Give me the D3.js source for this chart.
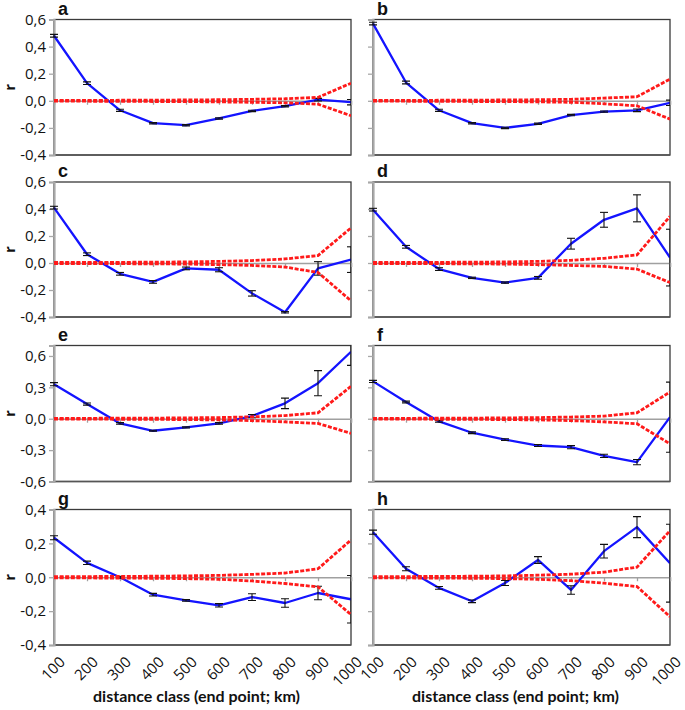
<!DOCTYPE html>
<html>
<head>
<meta charset="utf-8">
<script src="https://cdn.jsdelivr.net/npm/d3@7"></script>
<style>
  html, body { margin: 0; padding: 0; background: #fff; }
  svg { display: block; }
</style>
</head>
<body>
<svg id="chart" width="685" height="710"></svg>
<script>
// ---------- DATA ----------
const distances = [100, 200, 300, 400, 500, 600, 700, 800, 900, 1000];
const panelLetters = ["a", "b", "c", "d", "e", "f", "g", "h"];
const ticksRow1 = [-0.4, -0.2, 0, 0.2, 0.4, 0.6];
const ticksRow3 = [-0.6, -0.3, 0, 0.3, 0.6];
const ticksRow4 = [-0.4, -0.2, 0, 0.2, 0.4];
const xTitle = "distance class (end point; km)";
const yTitle = "r";

// panel a
const rA   = [0.48, 0.13, -0.07, -0.165, -0.18, -0.13, -0.075, -0.04, 0.008, -0.01];
const errA = [0.01, 0.01, 0.008, 0.005, 0.005, 0.005, 0.005, 0.005, 0.01, 0.02];
const upA  = [0.003, 0.003, 0.004, 0.005, 0.006, 0.008, 0.011, 0.015, 0.025, 0.13];
const loA  = [-0.003, -0.003, -0.004, -0.005, -0.006, -0.008, -0.011, -0.015, -0.025, -0.11];
// panel b
const rB   = [0.57, 0.135, -0.07, -0.165, -0.2, -0.17, -0.105, -0.08, -0.07, -0.015];
const errB = [0.01, 0.01, 0.008, 0.005, 0.005, 0.005, 0.005, 0.005, 0.01, 0.02];
const upB  = [0.003, 0.003, 0.004, 0.005, 0.006, 0.008, 0.011, 0.02, 0.03, 0.16];
const loB  = [-0.003, -0.003, -0.004, -0.005, -0.006, -0.008, -0.011, -0.022, -0.037, -0.135];
// panel c
const rC   = [0.41, 0.065, -0.08, -0.14, -0.04, -0.05, -0.225, -0.365, -0.04, 0.025];
const errC = [0.01, 0.01, 0.01, 0.01, 0.01, 0.015, 0.02, 0.005, 0.05, 0.095];
const upC  = [0.004, 0.004, 0.005, 0.006, 0.008, 0.012, 0.018, 0.03, 0.055, 0.26];
const loC  = [-0.004, -0.004, -0.005, -0.006, -0.008, -0.012, -0.018, -0.03, -0.07, -0.28];
// panel d
const rD   = [0.395, 0.12, -0.045, -0.11, -0.145, -0.11, 0.143, 0.32, 0.405, 0.04];
const errD = [0.01, 0.01, 0.01, 0.005, 0.005, 0.01, 0.04, 0.055, 0.1, 0.21];
const upD  = [0.004, 0.004, 0.005, 0.006, 0.008, 0.012, 0.02, 0.035, 0.06, 0.345];
const loD  = [-0.004, -0.004, -0.005, -0.006, -0.008, -0.012, -0.018, -0.025, -0.045, -0.145];
// panel e
const rE   = [0.33, 0.14, -0.045, -0.115, -0.083, -0.045, 0.025, 0.147, 0.34, 0.64];
const errE = [0.015, 0.01, 0.008, 0.005, 0.005, 0.008, 0.015, 0.05, 0.12, 0.13];
const upE  = [0.003, 0.004, 0.005, 0.006, 0.008, 0.011, 0.018, 0.03, 0.057, 0.31];
const loE  = [-0.003, -0.004, -0.005, -0.006, -0.008, -0.011, -0.018, -0.03, -0.045, -0.14];
// panel f
const rF   = [0.357, 0.16, -0.026, -0.134, -0.2, -0.256, -0.272, -0.355, -0.415, 0.015];
const errF = [0.01, 0.008, 0.008, 0.008, 0.008, 0.01, 0.015, 0.015, 0.025, 0.335];
const upF  = [0.003, 0.004, 0.005, 0.006, 0.008, 0.011, 0.016, 0.025, 0.057, 0.255];
const loF  = [-0.003, -0.004, -0.005, -0.006, -0.008, -0.011, -0.018, -0.03, -0.048, -0.24];
// panel g
const rG   = [0.233, 0.085, 0.0, -0.103, -0.136, -0.166, -0.117, -0.152, -0.093, -0.13];
const errG = [0.012, 0.01, 0.005, 0.008, 0.005, 0.01, 0.02, 0.025, 0.04, 0.14];
const upG  = [0.004, 0.004, 0.005, 0.006, 0.008, 0.011, 0.017, 0.025, 0.05, 0.22];
const loG  = [-0.004, -0.004, -0.005, -0.006, -0.008, -0.012, -0.022, -0.037, -0.057, -0.22];
// panel h
const rH   = [0.266, 0.05, -0.063, -0.142, -0.034, 0.102, -0.075, 0.154, 0.296, 0.083];
const errH = [0.012, 0.012, 0.008, 0.008, 0.015, 0.02, 0.025, 0.04, 0.062, 0.23];
const upH  = [0.004, 0.004, 0.005, 0.006, 0.008, 0.012, 0.018, 0.03, 0.06, 0.275];
const loH  = [-0.004, -0.004, -0.005, -0.006, -0.008, -0.012, -0.02, -0.035, -0.055, -0.233];

const panels = [
  { letter: panelLetters[0], r: rA, err: errA, up: upA, lo: loA, domain: [-0.4, 0.6], ticks: ticksRow1 },
  { letter: panelLetters[1], r: rB, err: errB, up: upB, lo: loB, domain: [-0.4, 0.6], ticks: ticksRow1 },
  { letter: panelLetters[2], r: rC, err: errC, up: upC, lo: loC, domain: [-0.4, 0.6], ticks: ticksRow1 },
  { letter: panelLetters[3], r: rD, err: errD, up: upD, lo: loD, domain: [-0.4, 0.6], ticks: ticksRow1 },
  { letter: panelLetters[4], r: rE, err: errE, up: upE, lo: loE, domain: [-0.6, 0.7], ticks: ticksRow3 },
  { letter: panelLetters[5], r: rF, err: errF, up: upF, lo: loF, domain: [-0.6, 0.7], ticks: ticksRow3 },
  { letter: panelLetters[6], r: rG, err: errG, up: upG, lo: loG, domain: [-0.4, 0.4], ticks: ticksRow4 },
  { letter: panelLetters[7], r: rH, err: errH, up: upH, lo: loH, domain: [-0.4, 0.4], ticks: ticksRow4 }
];

// ---------- LAYOUT ----------
const colX = [[54, 351], [373, 670]];
const rowY = [[19.5, 155], [182, 317], [345.5, 481.5], [509.5, 645]];

const svg = d3.select("#chart");
const fmt = v => d3.format(".1f")(v).replace(".", ",").replace("\u2212", "-");
const tickFont = "'Open Sans', 'DejaVu Sans', sans-serif";

panels.forEach((p, i) => {
  const col = i % 2, row = Math.floor(i / 2);
  const [x0, x1] = colX[col];
  const [y0, y1] = rowY[row];
  const x = d3.scalePoint().domain(distances).range([x0, x1]);
  const y = d3.scaleLinear().domain(p.domain).range([y1, y0]);
  const g = svg.append("g");
  const clipId = "clip" + i;
  svg.append("clipPath").attr("id", clipId)
    .append("rect").attr("x", x0 - 4).attr("y", y0).attr("width", x1 - x0 + 4).attr("height", y1 - y0);

  // frame
  g.append("rect").attr("x", x0).attr("y", y0).attr("width", x1 - x0).attr("height", y1 - y0)
    .attr("fill", "none").attr("stroke", "#3a3a3a").attr("stroke-width", 1.3);

  // zero line with x ticks
  const xAxis = d3.axisBottom(x).tickSize(4).tickFormat("");
  const xa = g.append("g").attr("transform", `translate(0,${y(0)})`).call(xAxis);
  xa.select(".domain").attr("stroke", "#a0a0a0").attr("stroke-width", 1.4);
  xa.selectAll(".tick line").attr("stroke", "#a0a0a0").attr("stroke-width", 1.3);

  // bottom line
  g.append("line").attr("x1", x0).attr("x2", x1).attr("y1", y1).attr("y2", y1)
    .attr("stroke", "#555").attr("stroke-width", 1.6);

  // y axis
  const yAxis = d3.axisLeft(y).tickValues(p.ticks).tickSize(5).tickPadding(3)
    .tickFormat(col === 0 ? fmt : "");
  const ya = g.append("g").attr("transform", `translate(${x0},0)`).call(yAxis);
  ya.select(".domain").attr("stroke", "#a8a8a8").attr("stroke-width", 2.2);
  ya.selectAll(".tick line").attr("stroke", "#a8a8a8").attr("stroke-width", 1.3);
  ya.selectAll(".tick text").attr("font-family", tickFont).attr("font-size", 15)
    .attr("fill", "#111");

  // panel letter
  svg.append("text").attr("x", x0 + 4).attr("y", y0 - 5).text(p.letter)
    .attr("font-family", "'Liberation Sans', Arial, sans-serif").attr("font-weight", "bold")
    .attr("font-size", 18).attr("fill", "#111");

  // y title
  if (col === 0) {
    svg.append("text").attr("transform", `translate(15,${(y0 + y1) / 2}) rotate(-90)`)
      .attr("text-anchor", "middle").text(yTitle)
      .attr("font-family", tickFont).attr("font-weight", "bold").attr("font-size", 15)
      .attr("fill", "#111");
  }

  const plot = g.append("g").attr("clip-path", `url(#${clipId})`);
  const line = d3.line().x((d, k) => x(distances[k])).y(d => y(d));

  // blue observed line
  plot.append("path").datum(p.r).attr("d", line).attr("fill", "none")
    .attr("stroke", "#1414ff").attr("stroke-width", 2.3).attr("stroke-linejoin", "round");

  // error bars
  const eb = plot.append("g").attr("stroke", "#111").attr("stroke-width", 1.1);
  p.r.forEach((v, k) => {
    const cx = x(distances[k]);
    const top = y(v + p.err[k]), bot = y(v - p.err[k]);
    eb.append("line").attr("x1", cx).attr("x2", cx).attr("y1", top).attr("y2", bot);
    eb.append("line").attr("x1", cx - 4).attr("x2", cx + 4).attr("y1", top).attr("y2", top);
    eb.append("line").attr("x1", cx - 4).attr("x2", cx + 4).attr("y1", bot).attr("y2", bot);
  });

  // red envelope
  [p.up, p.lo].forEach(arr => {
    plot.append("path").datum(arr).attr("d", line).attr("fill", "none")
      .attr("stroke", "#ff1a1a").attr("stroke-width", 2.8)
      .attr("stroke-dasharray", "4,1.6");
  });

  // x tick labels for bottom row
  if (row === 3) {
    distances.forEach(dv => {
      svg.append("text")
        .attr("transform", `translate(${x(dv) + 12},663) rotate(-45)`)
        .attr("text-anchor", "end").text(dv)
        .attr("font-family", tickFont).attr("font-size", 15).attr("fill", "#111");
    });
    svg.append("text").attr("x", (x0 + x1) / 2 - 6).attr("y", 702)
      .attr("text-anchor", "middle").text(xTitle)
      .attr("font-family", "Lato, 'Open Sans', sans-serif").attr("font-weight", "bold")
      .attr("font-size", 16).attr("fill", "#111");
  }
});
</script>
</body>
</html>
